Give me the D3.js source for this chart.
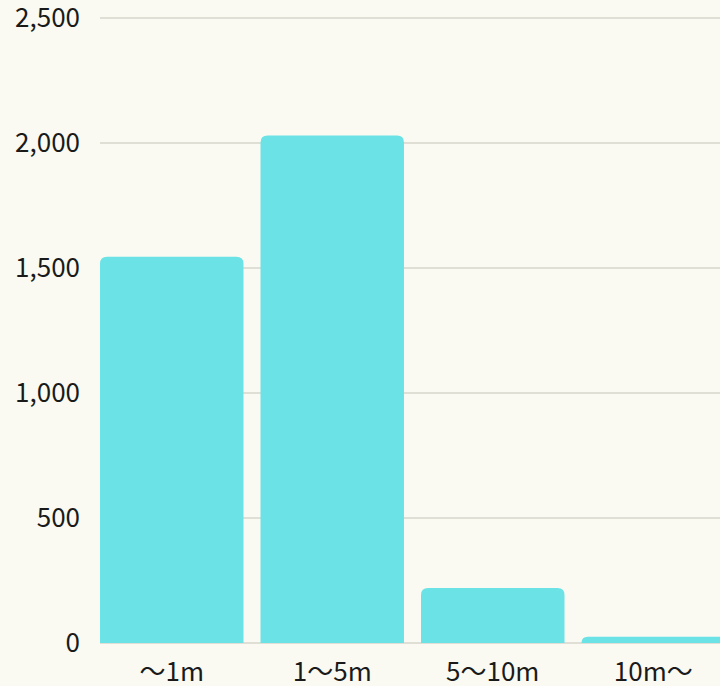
<!DOCTYPE html>
<html>
<head>
<meta charset="utf-8">
<script src="https://cdn.jsdelivr.net/npm/d3@7"></script>
<style>
  html, body { margin: 0; padding: 0; background: #fafaf2; overflow: hidden; }
  svg { display: block; }
  text { font-family: "Noto Sans CJK JP", "Noto Sans", sans-serif; fill: #1a1a1a; }
</style>
</head>
<body>
<svg id="chart" width="720" height="686"></svg>
<script>
// Distance ranges and counts
const categories = ["～1m", "1～5m", "5～10m", "10m～"];
const counts = [1545, 2030, 220, 25];
const yTicks = [0, 500, 1000, 1500, 2000, 2500];

const svg = d3.select("#chart");
const plotLeft = 100, plotRight = 725, plotTop = 18, plotBottom = 643;

const x = d3.scaleBand()
  .domain(categories)
  .range([plotLeft, plotRight])
  .paddingInner(0.106)
  .paddingOuter(0);

const y = d3.scaleLinear()
  .domain([0, 2500])
  .range([plotBottom, plotTop]);

// Horizontal gridlines
svg.append("g")
  .selectAll("line")
  .data(yTicks)
  .join("line")
  .attr("x1", plotLeft)
  .attr("x2", 720)
  .attr("y1", d => y(d))
  .attr("y2", d => y(d))
  .attr("stroke", "#d6d6cc")
  .attr("stroke-width", 1.5);

// Y tick labels
svg.append("g")
  .selectAll("text")
  .data(yTicks)
  .join("text")
  .attr("x", 80)
  .attr("y", d => y(d))
  .attr("dy", "0.36em")
  .attr("text-anchor", "end")
  .attr("font-size", 26)
  .text(d => d3.format(",")(d));

// Bars with rounded top corners
const r = 7;
function barPath(d, i) {
  const x0 = x(categories[i]);
  const w = x.bandwidth();
  const y0 = y(d);
  const h = plotBottom - y0;
  const rr = Math.min(r, h, w / 2);
  return `M${x0},${plotBottom}` +
    `V${y0 + rr}` +
    `Q${x0},${y0} ${x0 + rr},${y0}` +
    `H${x0 + w - rr}` +
    `Q${x0 + w},${y0} ${x0 + w},${y0 + rr}` +
    `V${plotBottom}Z`;
}

svg.append("g")
  .selectAll("path")
  .data(counts)
  .join("path")
  .attr("d", (d, i) => barPath(d, i))
  .attr("fill", "#6be3e6");

// X category labels
svg.append("g")
  .selectAll("text")
  .data(categories)
  .join("text")
  .attr("x", d => x(d) + x.bandwidth() / 2)
  .attr("y", 681)
  .attr("text-anchor", "middle")
  .attr("font-size", 26)
  .text(d => d);
</script>
</body>
</html>
